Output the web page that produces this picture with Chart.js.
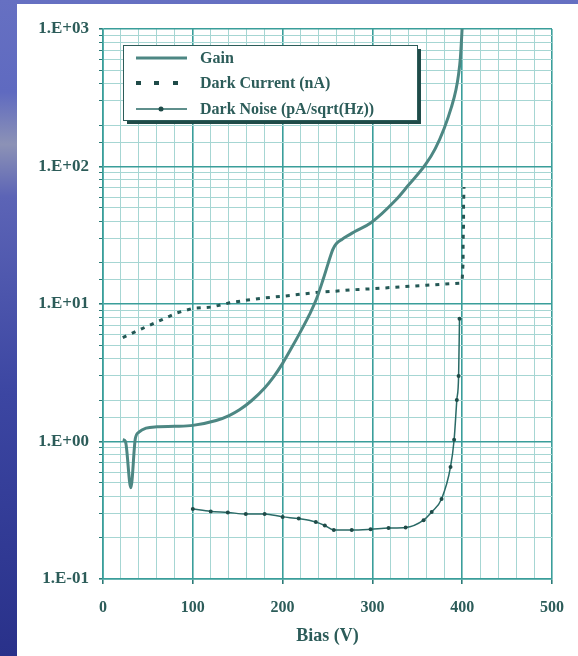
<!DOCTYPE html>
<html>
<head>
<meta charset="utf-8">
<script src="https://cdn.jsdelivr.net/npm/chart.js@4/dist/chart.umd.min.js"></script>
<style>
  html, body { margin: 0; padding: 0; }
  body {
    width: 578px; height: 656px; overflow: hidden; position: relative;
    background: linear-gradient(to bottom, #6670c2 0%, #5f6ac0 14%, #8c92b6 22%, #5c64b6 30%, #3c46a2 60%, #29318a 100%);
  }
  #panel { position: absolute; left: 17px; top: 4px; width: 561px; height: 652px; background: #fff; }
</style>
</head>
<body>
<div id="panel"><canvas id="myChart"></canvas></div>
<script>
//Datos

const gainBias = [22, 25, 31, 36, 40, 48, 60, 80, 100, 126, 141, 152, 165, 180, 190, 200, 210, 220, 230, 238, 245, 251, 256, 260, 266, 280, 298, 326, 340, 359, 370, 380, 388, 393, 396, 398, 399.5, 400.5];
const gainValues = [1.03, 1.0, 0.46, 1.05, 1.17, 1.25, 1.28, 1.29, 1.31, 1.42, 1.55, 1.7, 1.97, 2.45, 2.95, 3.7, 4.8, 6.3, 8.4, 11, 15, 20, 25, 27.5, 29.5, 33.5, 38.8, 57, 73, 103, 135, 190, 270, 360, 470, 620, 900, 1200];

const currentBias = [22, 43, 62, 82, 100, 121, 141, 161, 181, 201, 221, 241, 259, 279, 299, 330, 360, 398, 400, 401, 401, 401.5, 401.5, 402];
const currentValues = [5.7, 6.6, 7.5, 8.6, 9.3, 9.5, 10.2, 10.7, 11.1, 11.4, 11.8, 12.2, 12.4, 12.7, 12.9, 13.3, 13.7, 14.2, 15, 20, 28, 38, 52, 71];

const noiseBias = [100, 120, 139, 159, 180, 200, 218, 237, 247, 257, 277, 298, 318, 337, 357, 366, 377, 387, 391, 394, 396, 397];
const noiseValues = [0.323, 0.31, 0.305, 0.297, 0.297, 0.283, 0.275, 0.26, 0.245, 0.227, 0.227, 0.23, 0.235, 0.237, 0.268, 0.307, 0.382, 0.653, 1.03, 2.0, 3.0, 7.8];

const etiquetas = ['Gain', 'Dark Current (nA)', 'Dark Noise (pA/sqrt(Hz))'];

//Estilos

const fuente = '"Liberation Serif", "Times New Roman", serif';
const colorTexto = '#2c5c59';
const gridMenor = '#a6d6d3';
const gridMayor = '#3a9e9a';

function puntos(xs, ys) {
    return xs.map((x, i) => ({ x: x, y: ys[i] }));
}

function esPotencia(v) {
    const e = Math.log10(v);
    return Math.abs(e - Math.round(e)) < 1e-9;
}

const leyenda = {
    id: 'leyenda',
    afterDraw(chart) {
        const ctx = chart.ctx;
        const x0 = chart.chartArea.left + 20;
        const y0 = chart.chartArea.top + 16;
        const w = 294, h = 75;
        ctx.save();
        ctx.fillStyle = '#1f4b48';
        ctx.fillRect(x0 + 4, y0 + 4, w, h);
        ctx.fillStyle = '#fff';
        ctx.fillRect(x0, y0, w, h);
        ctx.strokeStyle = '#2c5c59';
        ctx.lineWidth = 1;
        ctx.strokeRect(x0 + 0.5, y0 + 0.5, w, h);

        const filas = [13, 38, 64];
        // Gain
        ctx.strokeStyle = '#4d8783';
        ctx.lineWidth = 3;
        ctx.beginPath();
        ctx.moveTo(x0 + 13, y0 + filas[0]);
        ctx.lineTo(x0 + 64, y0 + filas[0]);
        ctx.stroke();
        // Dark current
        ctx.fillStyle = '#1f4b48';
        [13, 31, 50].forEach(dx => ctx.fillRect(x0 + dx, y0 + filas[1] - 2, 5, 4));
        // Dark noise
        ctx.strokeStyle = '#2a6a66';
        ctx.lineWidth = 1.5;
        ctx.beginPath();
        ctx.moveTo(x0 + 13, y0 + filas[2]);
        ctx.lineTo(x0 + 64, y0 + filas[2]);
        ctx.stroke();
        ctx.fillStyle = '#1f4b48';
        ctx.beginPath();
        ctx.arc(x0 + 38, y0 + filas[2], 2.5, 0, Math.PI * 2);
        ctx.fill();

        ctx.fillStyle = colorTexto;
        ctx.font = 'bold 16px ' + fuente;
        ctx.textBaseline = 'middle';
        etiquetas.forEach((t, i) => ctx.fillText(t, x0 + 77, y0 + filas[i] + 1));
        ctx.restore();
    }
};

const data = {
    datasets: [
        {
            label: etiquetas[0],
            data: puntos(gainBias, gainValues),
            borderColor: '#4d8783',
            borderWidth: 3,
            pointRadius: 0,
            cubicInterpolationMode: 'monotone'
        },
        {
            label: etiquetas[1],
            data: puntos(currentBias, currentValues),
            borderColor: '#245855',
            borderWidth: 3,
            borderDash: [4, 6],
            pointRadius: 0
        },
        {
            label: etiquetas[2],
            data: puntos(noiseBias, noiseValues),
            borderColor: '#2a6a66',
            borderWidth: 1.5,
            pointRadius: 2,
            pointBackgroundColor: '#1f4b48',
            pointBorderWidth: 0,
            cubicInterpolationMode: 'monotone'
        }
    ]
};

const config = {
    type: 'line',
    data: data,
    options: {
        responsive: true,
        maintainAspectRatio: false,
        animation: false,
        layout: { padding: { left: 0, top: 25, right: 24, bottom: 0 } },
        plugins: { legend: { display: false }, tooltip: { enabled: false } },
        scales: {
            x: {
                type: 'linear',
                min: 0,
                max: 500,
                afterFit: (s) => { s.height = 77; },
                ticks: {
                    stepSize: 20,
                    autoSkip: false,
                    maxRotation: 0,
                    padding: 14,
                    color: colorTexto,
                    font: { family: fuente, size: 16, weight: 'bold' },
                    callback: (v) => (v % 100 === 0 ? String(v) : '')
                },
                grid: {
                    color: (c) => (c.tick && c.tick.value % 100 === 0 ? gridMayor : gridMenor),
                    lineWidth: (c) => (c.tick && c.tick.value % 100 === 0 ? 1.6 : 1),
                    tickLength: 5,
                    tickColor: (c) => (c.tick && c.tick.value % 100 === 0 ? '#2a7a76' : 'rgba(0,0,0,0)')
                },
                border: { color: gridMayor, width: 1.6 },
                title: {
                    display: true,
                    text: 'Bias (V)',
                    color: colorTexto,
                    font: { family: fuente, size: 18, weight: 'bold' },
                    padding: { top: 0, bottom: 9 }
                }
            },
            y: {
                type: 'logarithmic',
                min: 0.1,
                max: 1000,
                afterFit: (s) => { s.width = 86; },
                ticks: {
                    autoSkip: false,
                    padding: 10,
                    color: colorTexto,
                    font: { family: fuente, size: 17, weight: 'bold' },
                    callback: (v) => {
                        if (!esPotencia(v)) return '';
                        const n = Math.round(Math.log10(v));
                        return '1.E' + (n < 0 ? '-' : '+') + String(Math.abs(n)).padStart(2, '0');
                    }
                },
                grid: {
                    color: (c) => (c.tick && esPotencia(c.tick.value) ? gridMayor : gridMenor),
                    lineWidth: (c) => (c.tick && esPotencia(c.tick.value) ? 1.6 : 1),
                    tickLength: 4,
                    tickColor: '#2a7a76'
                },
                border: { color: gridMayor, width: 1.6 }
            }
        }
    },
    plugins: [leyenda]
};

window.myChart = new Chart(document.getElementById('myChart'), config);
</script>
</body>
</html>
